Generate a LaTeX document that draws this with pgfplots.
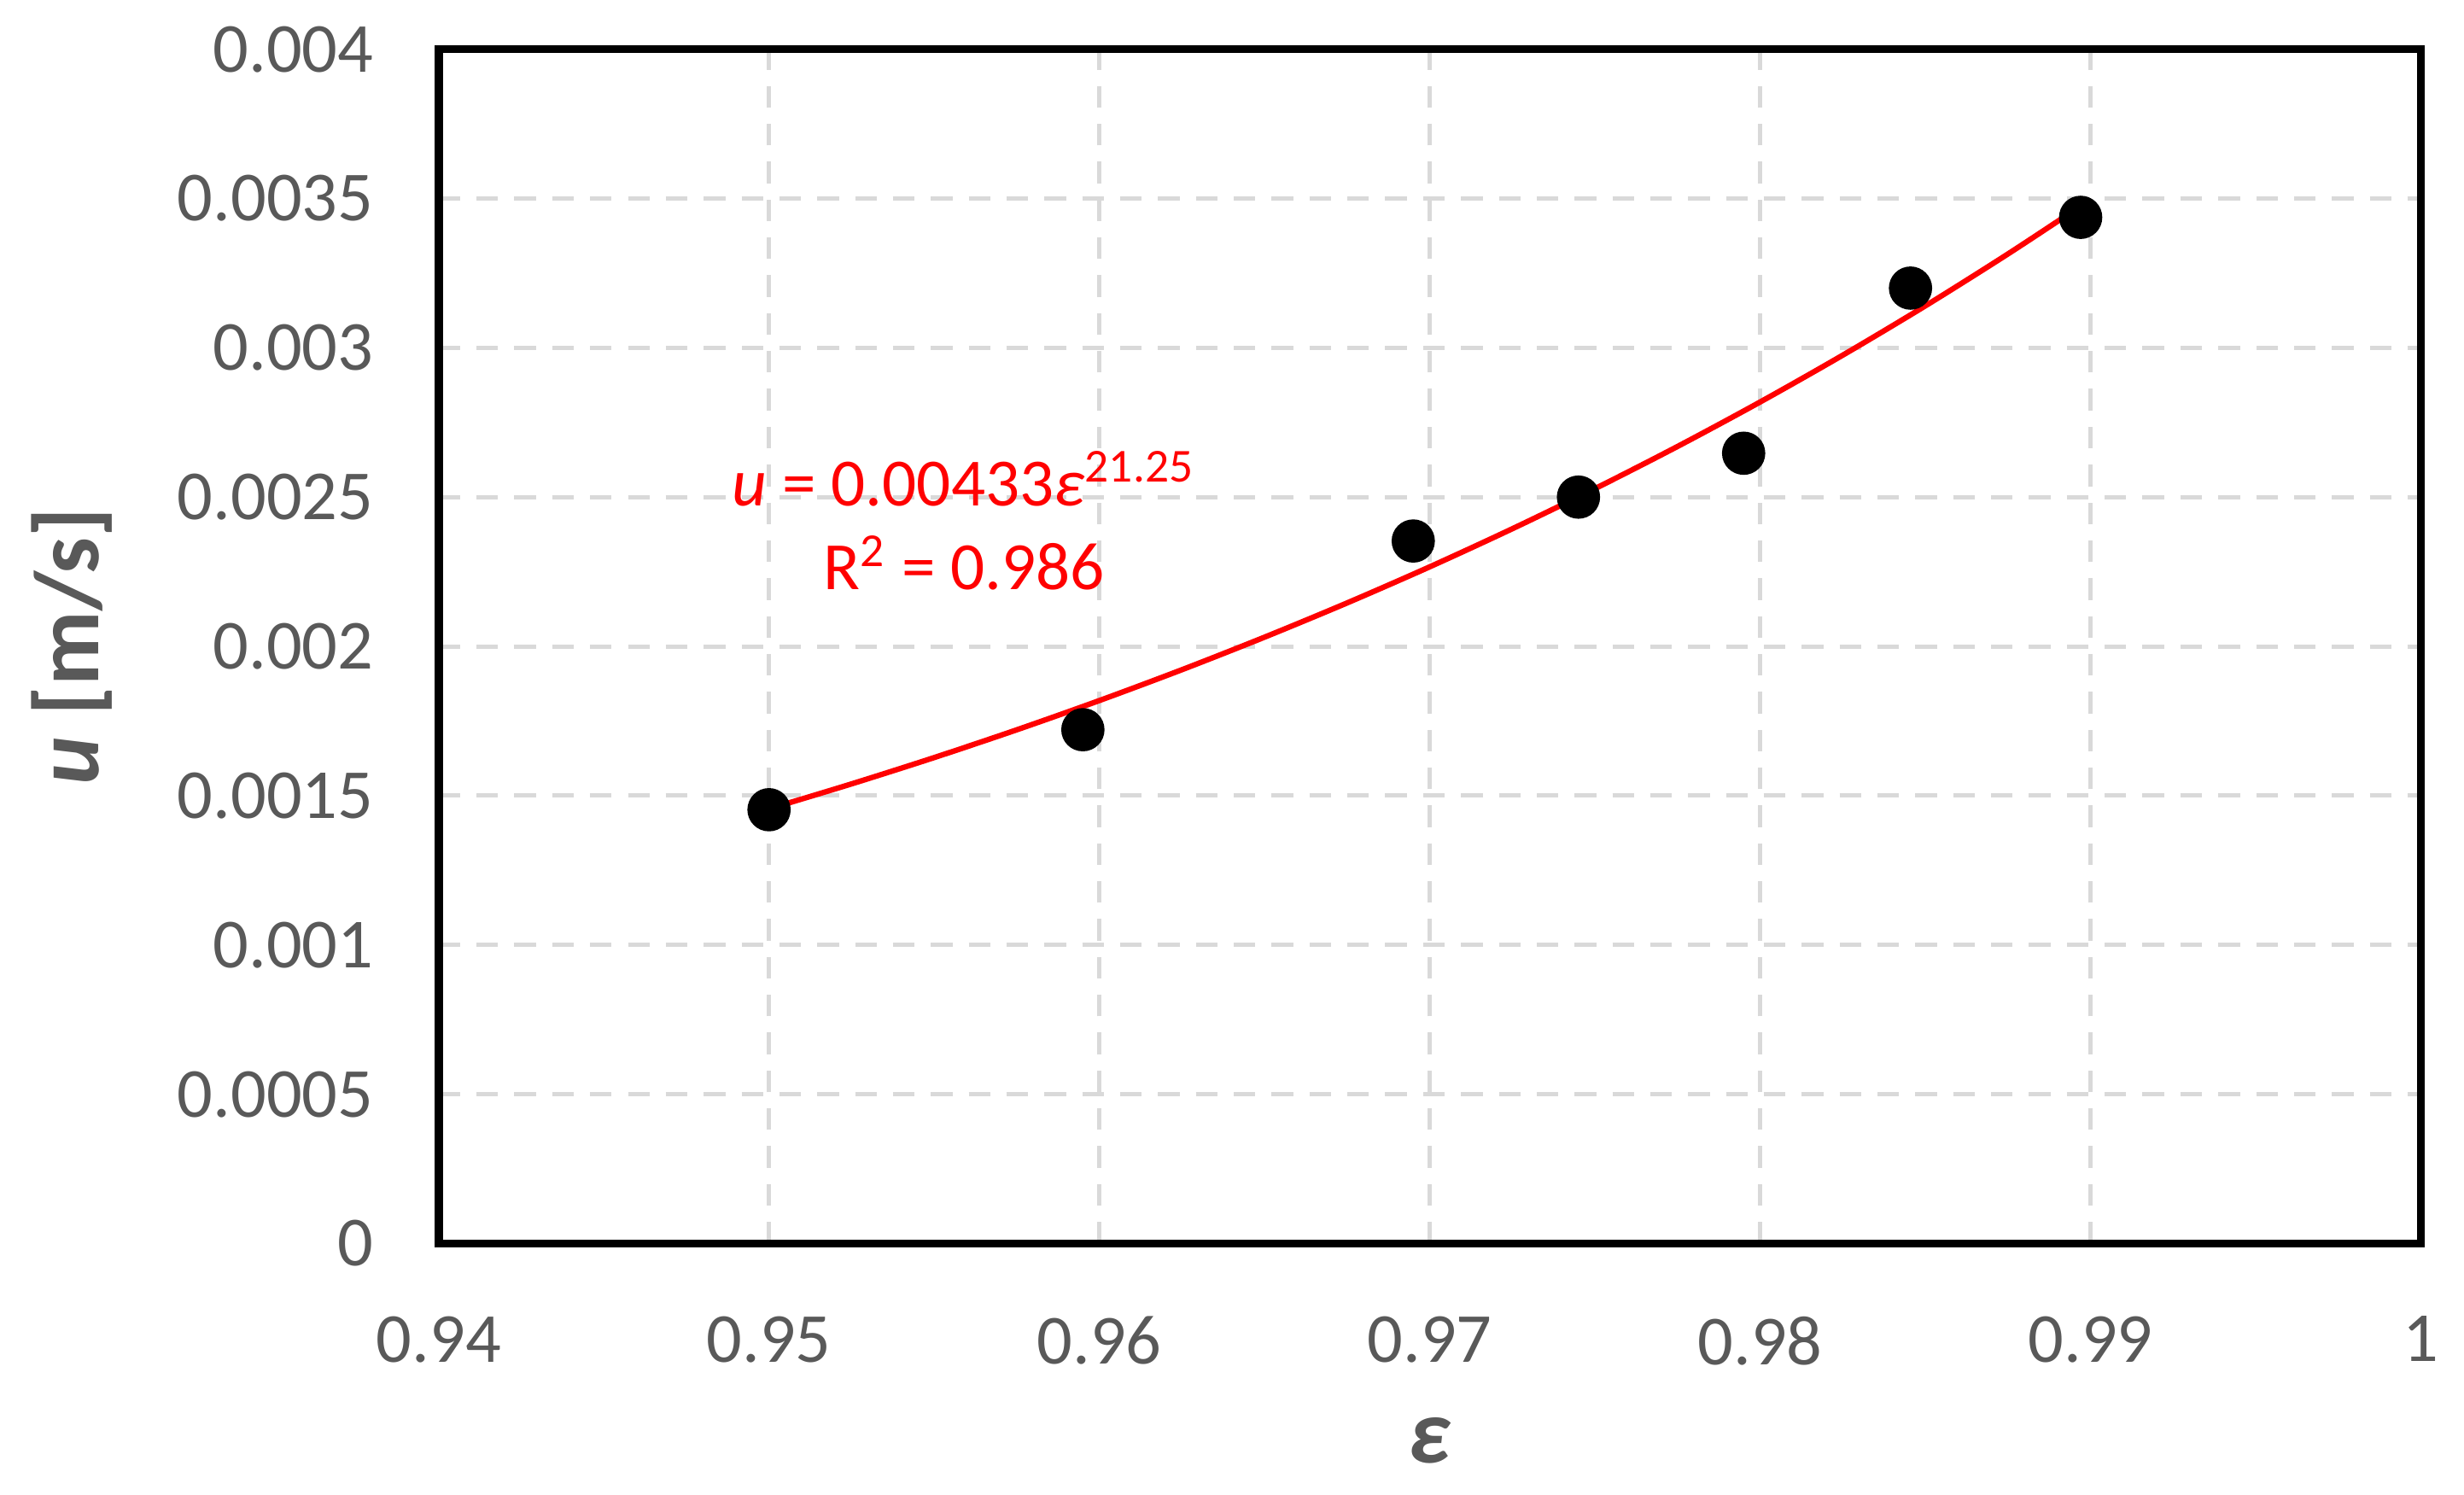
\documentclass[border=0pt]{standalone}
\usepackage{fontspec}
\setmainfont{Carlito}
\usepackage{pgfplots}
\pgfplotsset{compat=1.18}
\definecolor{ticktext}{RGB}{89,89,89}
\definecolor{gridgray}{RGB}{217,217,217}
\begin{document}
\begin{tikzpicture}
\begin{axis}[
    name=ax,
    width=12.88cm, height=7.76cm,
    scale only axis,
    xmin=0.94, xmax=1, ymin=0, ymax=0.004,
    xtick={0.94,0.95,0.96,0.97,0.98,0.99,1},
    ytick={0,0.0005,0.001,0.0015,0.002,0.0025,0.003,0.0035,0.004},
    xticklabels={0.94,0.95,0.96,0.97,0.98,0.99,1},
    yticklabels={0,0.0005,0.001,0.0015,0.002,0.0025,0.003,0.0035,0.004},
    scaled y ticks=false, scaled x ticks=false,
    major tick length=0pt,
    axis line style={line width=1.5pt},
    xmajorgrids, ymajorgrids,
    grid style={gridgray, line width=0.8pt, dash pattern=on 4pt off 3pt},
    tick label style={font=\fontsize{13}{15}\selectfont, text=ticktext},
    xticklabel style={yshift=-0.35cm},
    yticklabel style={xshift=-0.3cm},
    xlabel={\textbf{\textit{ε}}},
    ylabel={\textbf{\textit{u} [m/s]}},
    label style={font=\fontsize{17}{19}\selectfont, text=ticktext},
    xlabel style={yshift=-0.1cm},
    ylabel style={yshift=0.18cm},
]
% fitted power curve u = 0.00433 eps^21.25
\addplot[red, line width=1pt, smooth] coordinates {
    (0.9500,0.0014559) (0.9525,0.0015396) (0.9550,0.0016277) (0.9575,0.0017207)
    (0.9600,0.0018187) (0.9625,0.0019220) (0.9650,0.0020310) (0.9675,0.0021457)
    (0.9700,0.0022666) (0.9725,0.0023941) (0.9750,0.0025284) (0.9775,0.0026697)
    (0.9800,0.0028186) (0.9825,0.0029754) (0.9850,0.0031405) (0.9875,0.0033144)
    (0.9897,0.0034749)
};
% measured points
\addplot[only marks, mark=*, mark size=3.8pt, black] coordinates {
    (0.9500,0.001453) (0.9595,0.001721) (0.9695,0.002353) (0.9745,0.002500)
    (0.9795,0.002647) (0.98455,0.003200) (0.9897,0.003437)
};
\node[red, align=center, font=\fontsize{12.5}{15.5}\selectfont] at (axis cs:0.9559,0.00242)
    {\textit{u} = 0.00433\textit{ε}\textsuperscript{21.25}\\R\textsuperscript{2} = 0.986};
\end{axis}
% white margins as in the reference
\path ([xshift=-2.85cm,yshift=-1.63cm]ax.south west) ([xshift=0.28cm,yshift=0.32cm]ax.north east);
\end{tikzpicture}
\end{document}
